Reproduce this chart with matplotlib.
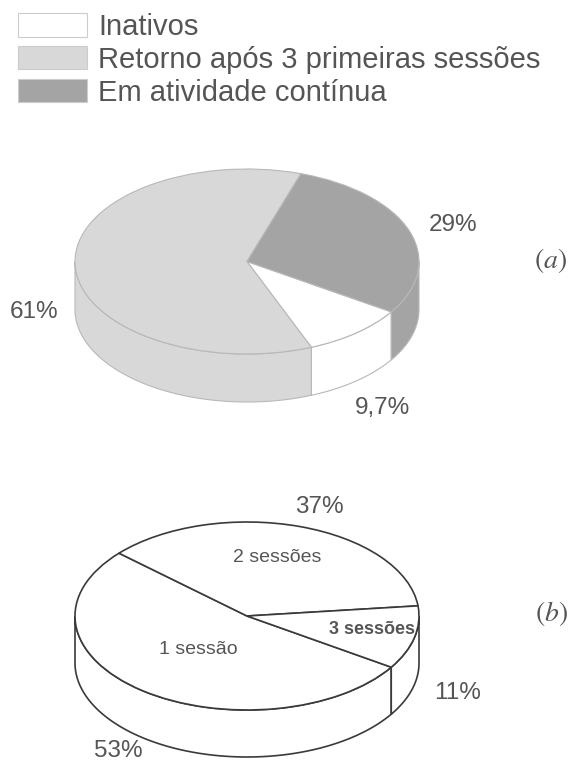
from matplotlib import pyplot as plt
import numpy as np

plt.rcParams['font.family'] = ['Liberation Sans', 'DejaVu Sans']
plt.rcParams['mathtext.fontset'] = 'stix'

W, H = 571, 764

status_labels = ['Inativos', 'Retorno após 3 primeiras sessões', 'Em atividade contínua']
status_values = [9.7, 61, 29]
status_text = ['9,7%', '61%', '29%']

session_labels = ['1 sessão', '2 sessões', '3 sessões']
session_values = [53, 37, 11]
session_text = ['53%', '37%', '11%']

TEXT = '#555555'


def px(x, y):
  return x / W, 1 - y / H


def wall(ax, theta1, theta2, depth, color, edge, lw):
  # parte frontal da fatia: so o trecho entre 180 e 360 graus aparece
  for k in (-360, 0, 360, 720):
    lo = max(theta1 + k, 180)
    hi = min(theta2 + k, 360)
    if hi <= lo:
      continue
    t = np.radians(np.linspace(lo, hi, 120))
    xs = np.cos(t)
    ys = np.sin(t)
    ax.fill(np.r_[xs, xs[::-1]], np.r_[ys, ys[::-1] - depth],
            facecolor=color, edgecolor=edge, linewidth=lw, zorder=1, clip_on=False)


def pie3d(left, right, top, bottom, depth_px, values, colors, edge, lw, start):
  ry = (bottom - top) / 2
  depth = depth_px / ry
  ax = fig.add_axes([left / W, 1 - (bottom + depth_px) / H, (right - left) / W, (bottom + depth_px - top) / H])
  wedges, _ = ax.pie(values, colors=colors, startangle=start, counterclock=False, radius=1,
                     wedgeprops={'edgecolor': edge, 'linewidth': lw, 'zorder': 2, 'clip_on': False})
  for w in wedges:
    wall(ax, w.theta1, w.theta2, depth, w.get_facecolor(), edge, lw)
  ax.set_aspect('auto')
  ax.set_xlim(-1, 1)
  ax.set_ylim(-1 - depth, 1)
  ax.axis('off')
  return ax, wedges


def label(x, y, s, size=17.5, **kw):
  xf, yf = px(x, y)
  fig.text(xf, yf, s, fontsize=size, color=TEXT, ha='center', va='center', **kw)


fig = plt.figure(figsize=(W / 100, H / 100), dpi=100)

# grafico (a)
ax_a, wedges_a = pie3d(75, 419, 169, 354, 48, status_values, ['#ffffff', '#d8d8d8', '#a4a4a4'],
                       '#b8b8b8', 0.8, -33)
label(383, 408, status_text[0])
label(34, 312, status_text[1])
label(453, 225, status_text[2])
label(551, 260, r'$(a)$', size=20)

# grafico (b)
ax_b, wedges_b = pie3d(75, 419, 522, 710, 47, session_values, ['#ffffff'] * 3, '#3a3a3a', 1.2, -33)
label(118, 751, session_text[0])
label(319, 507, session_text[1])
label(458, 693, session_text[2])
label(198, 649, session_labels[0], size=14)
label(277, 557, session_labels[1], size=14)
label(372, 630, session_labels[2], size=13, fontweight='bold')
label(551, 613, r'$(b)$', size=20)

leg = fig.legend(wedges_a, status_labels, loc='upper left', bbox_to_anchor=px(18, 13),
                 frameon=False, fontsize=21, handlelength=2.36, handleheight=0.85,
                 labelspacing=0.17, handletextpad=0.4, borderpad=0, borderaxespad=0,
                 labelcolor=TEXT)
for h in leg.get_patches():
  h.set_edgecolor('#cccccc')

plt.savefig('out.png', dpi=100)
